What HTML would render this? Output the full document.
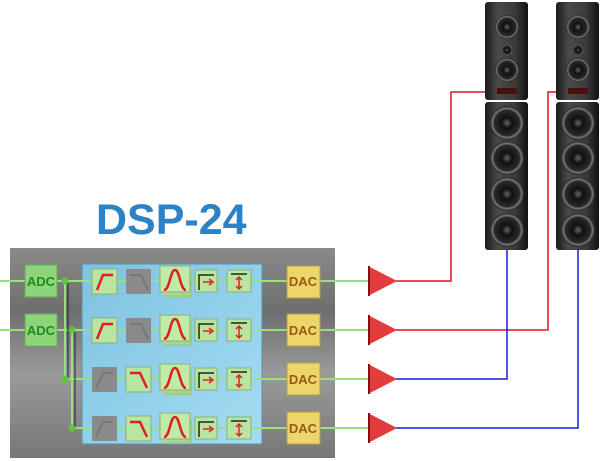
<!DOCTYPE html>
<html><head><meta charset="utf-8"><style>
html,body{margin:0;padding:0;background:#fff;}
svg{display:block;}
text{font-family:"Liberation Sans",Arial,sans-serif;}
</style></head><body>
<svg width="600" height="461" viewBox="0 0 600 461" xmlns="http://www.w3.org/2000/svg">
<defs>
<linearGradient id="metal" x1="0" y1="0" x2="0" y2="1">
<stop offset="0" stop-color="#8a8a8a"/><stop offset="0.3" stop-color="#6e6e6e"/><stop offset="0.6" stop-color="#9a9a9a"/><stop offset="1" stop-color="#777"/></linearGradient>
<linearGradient id="blue" x1="0" y1="0" x2="1" y2="1"><stop offset="0" stop-color="#7fc3e0"/><stop offset="1" stop-color="#a3dcf2"/></linearGradient>
<linearGradient id="spk" x1="0" y1="0" x2="1" y2="0"><stop offset="0" stop-color="#1a1a1a"/><stop offset="0.3" stop-color="#4a4a4a"/><stop offset="0.7" stop-color="#3a3a3a"/><stop offset="1" stop-color="#111"/></linearGradient>
<radialGradient id="cone"><stop offset="0" stop-color="#666"/><stop offset="0.3" stop-color="#111"/><stop offset="0.75" stop-color="#2a2a2a"/><stop offset="0.85" stop-color="#777"/><stop offset="1" stop-color="#222"/></radialGradient>
</defs>

<g fill="none" stroke-width="1.5">
<polyline points="395,281 451,281 451,92 486,92" stroke="#e0141c"/>
<polyline points="395,330 548,330 548,92 557,92" stroke="#e0141c"/>
<polyline points="395,379 507,379 507,250" stroke="#1a1adc"/>
<polyline points="395,428 578,428 578,250" stroke="#1a1adc"/>
</g>

<g id="sp">
<rect x="485" y="2" width="43" height="98" rx="3" fill="url(#spk)"/>
<rect x="485" y="102" width="43" height="148" rx="3" fill="url(#spk)"/>
<circle cx="507" cy="27" r="12" fill="url(#cone)"/>
<circle cx="507" cy="50" r="6" fill="url(#cone)"/>
<circle cx="507" cy="70" r="12" fill="url(#cone)"/>
<rect x="497" y="88" width="20" height="6" fill="#4a1010"/>
<circle cx="507" cy="123" r="17" fill="url(#cone)"/>
<circle cx="507" cy="158" r="17" fill="url(#cone)"/>
<circle cx="507" cy="194" r="17" fill="url(#cone)"/>
<circle cx="507" cy="230" r="17" fill="url(#cone)"/>
</g>
<use href="#sp" transform="translate(71,0)"/>

<text x="96" y="234" font-size="43" font-weight="bold" fill="#2b82c4">DSP-24</text>

<rect x="10" y="248" width="325" height="210" fill="url(#metal)"/>
<rect x="82" y="264" width="180" height="180" fill="url(#blue)" stroke="#5a8ea8" stroke-width="1"/>

<g stroke="#9be07a" stroke-width="2" fill="none">
<line x1="0" y1="281" x2="92" y2="281"/>
<line x1="0" y1="330" x2="92" y2="330"/>
<line x1="65" y1="281" x2="65" y2="379"/>
<line x1="72" y1="330" x2="72" y2="428"/>
<line x1="65" y1="379" x2="92" y2="379"/>
<line x1="72" y1="428" x2="92" y2="428"/>
<line x1="92" y1="281" x2="250" y2="281"/><line x1="92" y1="330" x2="250" y2="330"/>
<line x1="92" y1="379" x2="250" y2="379"/><line x1="92" y1="428" x2="250" y2="428"/>
<line x1="250" y1="281" x2="368" y2="281"/><line x1="250" y1="330" x2="368" y2="330"/>
<line x1="250" y1="379" x2="368" y2="379"/><line x1="250" y1="428" x2="368" y2="428"/>
</g>
<g stroke="#223" stroke-width="1"><line x1="68" y1="283" x2="68" y2="379"/><line x1="75" y1="332" x2="75" y2="428"/></g>
<g fill="#5fc63a"><circle cx="65" cy="281" r="3.5"/><circle cx="72" cy="330" r="3.5"/><circle cx="65" cy="379" r="3.5"/><circle cx="72" cy="428" r="3.5"/></g>

<g font-size="13" font-weight="bold" fill="#1f8a22" text-anchor="middle">
<rect x="25" y="265" width="32" height="32" fill="#8ed47a" stroke="#6aaa5a"/><text x="41" y="286">ADC</text>
<rect x="25" y="314" width="32" height="32" fill="#8ed47a" stroke="#6aaa5a"/><text x="41" y="335">ADC</text>
</g>

<g font-size="13" font-weight="bold" fill="#9a5a10" text-anchor="middle">
<rect x="287" y="266" width="33" height="32" fill="#ecd66a" stroke="#b8a040"/><text x="303" y="286">DAC</text>
<rect x="287" y="314" width="33" height="32" fill="#ecd66a" stroke="#b8a040"/><text x="303" y="335">DAC</text>
<rect x="287" y="363" width="33" height="32" fill="#ecd66a" stroke="#b8a040"/><text x="303" y="384">DAC</text>
<rect x="287" y="412" width="33" height="32" fill="#ecd66a" stroke="#b8a040"/><text x="303" y="433">DAC</text>
</g>

<g id="row">
<rect x="92" y="269" width="25" height="25" fill="#b8e6a0" stroke="#8ab07a"/>
<polyline points="97,290 103,275 113,275" fill="none" stroke="#e02020" stroke-width="2.5"/>
<rect x="126" y="269" width="25" height="25" fill="#8a8a8a"/>
<polyline points="130,275 141,275 148,290" fill="none" stroke="#777" stroke-width="2"/>
<rect x="164" y="273" width="28" height="24" fill="#9ccc82"/>
<rect x="162" y="271" width="28" height="24" fill="#a8d890"/>
<rect x="160" y="266" width="30" height="26" fill="#c0eaa8" stroke="#8ab07a"/>
<path d="M164,290 C170,290 170,270 175,270 C180,270 180,290 186,290" fill="none" stroke="#e02020" stroke-width="2.5"/>
<rect x="195" y="270" width="22" height="22" fill="#b8e6a0" stroke="#8ab07a"/>
<polyline points="199,290 199,275 214,275" fill="none" stroke="#222" stroke-width="1.5"/>
<path d="M203,282 L211,282 M209,279 L213,282 L209,285" fill="none" stroke="#e02020" stroke-width="1.5"/>
<rect x="227" y="270" width="24" height="22" fill="#b8e6a0" stroke="#8ab07a"/>
<line x1="231" y1="274" x2="247" y2="274" stroke="#222" stroke-width="1.5"/>
<path d="M239,277 L239,289 M236,280 L239,277 L242,280 M236,286 L239,289 L242,286" fill="none" stroke="#e02020" stroke-width="1.5"/>
</g>
<use href="#row" transform="translate(0,49)"/>
<g id="lrow" transform="translate(0,98)">
<rect x="92" y="269" width="25" height="25" fill="#8a8a8a"/>
<polyline points="96,290 103,275 113,275" fill="none" stroke="#777" stroke-width="2"/>
<rect x="126" y="269" width="25" height="25" fill="#b8e6a0" stroke="#8ab07a"/>
<polyline points="130,275 140,275 147,290" fill="none" stroke="#e02020" stroke-width="2.5"/>
<rect x="164" y="273" width="28" height="24" fill="#9ccc82"/><rect x="162" y="271" width="28" height="24" fill="#a8d890"/>
<rect x="160" y="266" width="30" height="26" fill="#c0eaa8" stroke="#8ab07a"/>
<path d="M164,290 C170,290 170,270 175,270 C180,270 180,290 186,290" fill="none" stroke="#e02020" stroke-width="2.5"/>
<rect x="195" y="270" width="22" height="22" fill="#b8e6a0" stroke="#8ab07a"/>
<polyline points="199,290 199,275 214,275" fill="none" stroke="#222" stroke-width="1.5"/>
<path d="M203,282 L211,282 M209,279 L213,282 L209,285" fill="none" stroke="#e02020" stroke-width="1.5"/>
<rect x="227" y="270" width="24" height="22" fill="#b8e6a0" stroke="#8ab07a"/>
<line x1="231" y1="274" x2="247" y2="274" stroke="#222" stroke-width="1.5"/>
<path d="M239,277 L239,289 M236,280 L239,277 L242,280 M236,286 L239,289 L242,286" fill="none" stroke="#e02020" stroke-width="1.5"/>
</g>
<use href="#lrow" transform="translate(0,49)"/>

<g fill="#e23c3c">
<polygon points="368,266 397,281 368,296"/><polygon points="368,315 397,330 368,345"/>
<polygon points="368,364 397,379 368,394"/><polygon points="368,413 397,428 368,443"/>
</g>
<g stroke="#8a1010" stroke-width="2">
<line x1="369" y1="266" x2="369" y2="296"/><line x1="369" y1="315" x2="369" y2="345"/>
<line x1="369" y1="364" x2="369" y2="394"/><line x1="369" y1="413" x2="369" y2="443"/>
</g>
</svg>
</body></html>
